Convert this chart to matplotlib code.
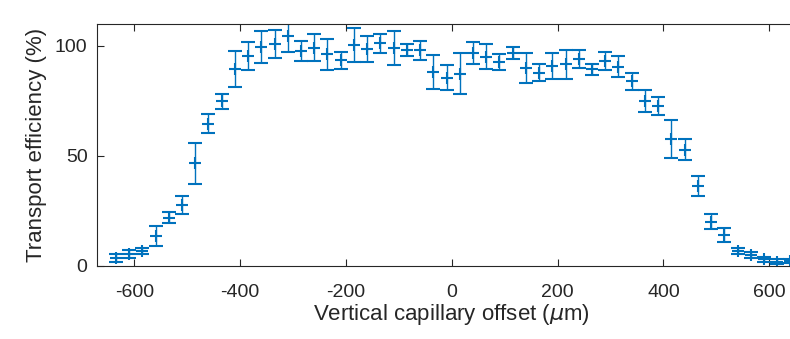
import numpy as np
import matplotlib
matplotlib.use('Agg')
import matplotlib.pyplot as plt

# capillary offset (um) and transport efficiency (%) with error
offset = np.arange(-635, 641, 25)
efficiency = [3.5, 5.5, 6.8, 13.7, 22.0, 27.8, 46.8, 64.7, 74.8, 89.7,
              95.5, 99.5, 101.0, 104.6, 97.7, 99.2, 96.2,
              93.5, 100.5, 98.8, 101.2, 99.2, 98.0, 98.0, 88.2, 85.6,
              87.5, 96.7, 95.1, 92.7, 97.0, 90.1, 87.8, 90.9, 91.7,
              94.2, 89.4, 93.2, 90.6, 84.0, 74.9, 72.6, 57.9, 52.9,
              36.2, 20.2, 14.1, 6.8, 5.0, 3.0, 2.0, 2.3]
error = [1.9, 2.0, 1.5, 4.5, 2.6, 4.2, 9.3, 4.4, 3.3, 8.2,
         6.2, 7.4, 6.5, 7.1, 4.4, 6.2, 7.0,
         3.8, 7.6, 5.9, 4.4, 7.8, 2.7, 4.3, 7.8, 5.7,
         9.2, 5.1, 5.6, 3.6, 2.7, 6.7, 3.8, 5.7, 6.7,
         4.2, 2.6, 4.0, 4.8, 3.8, 5.1, 4.0, 8.6, 4.9,
         4.6, 3.5, 3.2, 1.5, 1.5, 1.2, 1.0, 1.0]

xticks = [-600, -400, -200, 0, 200, 400, 600]
yticks = [0, 50, 100]

plt.rcParams['font.family'] = ['Liberation Sans', 'DejaVu Sans']
plt.rcParams['axes.unicode_minus'] = False
axcol = '#262626'

fig = plt.figure(figsize=(7.9, 3.39), dpi=100)
# axes run past the right edge, as in the cropped original
ax = fig.add_axes([97.3 / 790, 1 - 266 / 339, 709 / 790, 242 / 339])

ax.errorbar(offset, efficiency, yerr=error, fmt='+', color='#0072BD',
            markersize=9, markeredgewidth=1.5, elinewidth=1.0,
            capsize=4.7, capthick=1.6)

ax.set_xlim(-670, 670)
ax.set_ylim(0, 110)
ax.set_xticks(xticks)
ax.set_yticks(yticks)
ax.tick_params(direction='in', length=5, width=0.8, colors=axcol,
               labelsize=14, top=True, right=True)
ax.tick_params(axis='x', pad=13)
ax.tick_params(axis='y', pad=7)
for s in ax.spines.values():
    s.set_color(axcol)
    s.set_linewidth(0.8)

ax.set_xlabel(r'Vertical capillary offset ($\mu$m)', fontsize=16,
              color=axcol, labelpad=1)
ax.set_ylabel('Transport efficiency (%)', fontsize=16, color=axcol,
              labelpad=6)

fig.savefig('out.png', dpi=100)
